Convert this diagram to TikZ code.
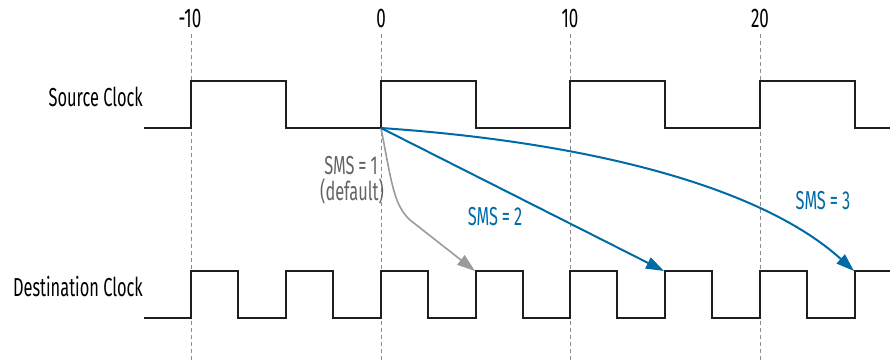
\documentclass[tikz,border=0pt]{standalone}
\usepackage{fontspec}
\setmainfont[FakeStretch=0.63]{Fira Sans}
\usetikzlibrary{arrows.meta}
\definecolor{smsblue}{RGB}{0,106,166}
\definecolor{smsgrayline}{RGB}{155,155,155}
\definecolor{smsgraytext}{RGB}{100,100,100}
\definecolor{clockline}{RGB}{30,30,30}
\definecolor{gridline}{RGB}{140,140,140}
\newcommand{\smseq}{\hspace{4pt}=\hspace{4pt}}
\tikzset{
  clockwave/.style={draw=clockline, line width=1.5pt, line join=miter},
  gridrule/.style={draw=gridline, line width=1pt, dash pattern=on 4pt off 3pt},
  ticklabel/.style={font=\fontsize{27}{30}\selectfont, inner sep=0pt, anchor=center},
  clocklabel/.style={font=\fontsize{26}{28}\selectfont, inner sep=0pt, anchor=east},
  bluearrow/.style={draw=smsblue, line width=2pt, -{Triangle[length=18pt,width=12pt]}},
  grayarrow/.style={draw=smsgrayline, line width=1.6pt, -{Triangle[length=18pt,width=12pt]}},
  bluelabel/.style={font=\fontsize{26}{28}\selectfont, text=smsblue, inner sep=0pt, anchor=center},
  graylabel/.style={font=\fontsize{26}{28}\selectfont, text=smsgraytext, inner sep=0pt, anchor=center},
}
\begin{document}
\begin{tikzpicture}[x=1pt,y=-1pt]
\useasboundingbox (0,0) rectangle (890,360);
% tick labels
\node[ticklabel] (tm10) at (190,18) {-10};
\node[ticklabel] (t0) at (381,18) {0};
\node[ticklabel] (t10) at (570,18) {10};
\node[ticklabel] (t20) at (760,18) {20};
% grid lines
\coordinate (g1) at (191,34); \coordinate (g1b) at (191,360);
\coordinate (g2) at (381,34); \coordinate (g2b) at (381,360);
\coordinate (g3) at (570,34); \coordinate (g3b) at (570,360);
\coordinate (g4) at (760,34); \coordinate (g4b) at (760,360);
\draw[gridrule] (g1) -- (g1b);
\draw[gridrule] (g2) -- (g2b);
\draw[gridrule] (g3) -- (g3b);
\draw[gridrule] (g4) -- (g4b);
% clock labels
\node[clocklabel] (srclab) at (143,97) {Source Clock};
\node[clocklabel] (dstlab) at (143,287) {Destination Clock};
% source clock
\draw[clockwave] (144,128) -- (191,128) -- (191,81) -- (286,81) -- (286,128) -- (381,128) -- (381,81) -- (476,81) -- (476,128) -- (570,128) -- (570,81) -- (665,81) -- (665,128) -- (760,128) -- (760,81) -- (855,81) -- (855,128) -- (890,128);
% destination clock
\draw[clockwave] (144,318) -- (191,318) -- (191,271) -- (238,271) -- (238,318) -- (286,318) -- (286,271) -- (333,271) -- (333,318) -- (381,318) -- (381,271) -- (428,271) -- (428,318) -- (476,318) -- (476,271) -- (523,271) -- (523,318) -- (570,318) -- (570,271) -- (617,271) -- (617,318) -- (665,318) -- (665,271) -- (712,271) -- (712,318) -- (760,318) -- (760,271) -- (807,271) -- (807,318) -- (855,318) -- (855,271) -- (890,271);
% arrow endpoints
\coordinate (src0) at (381,128);
\coordinate (d5) at (475,271);
\coordinate (d15) at (664,271);
\coordinate (d25) at (854,271);
% arrows
\draw[grayarrow] (src0) .. controls (392,185) and (394,205) .. (410,220) -- (d5);
\draw[bluearrow] (src0) -- (d15);
\draw[bluearrow] (src0) .. controls (600,143) and (765,190) .. (d25);
% labels
\node[graylabel] (sms1) at (351,166) {SMS\smseq 1};
\node[graylabel] (sms1d) at (352,191) {(default)};
\node[bluelabel] (sms2) at (495,217) {SMS\smseq 2};
\node[bluelabel] (sms3) at (823,201) {SMS\smseq 3};
\end{tikzpicture}
\end{document}
